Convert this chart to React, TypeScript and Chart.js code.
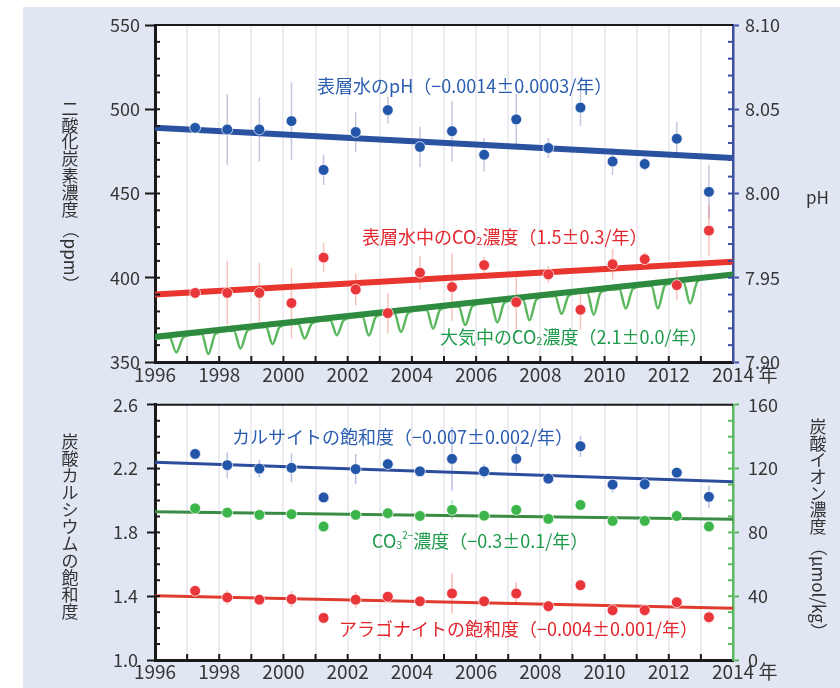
import React, { useEffect, useRef } from 'react';
import { Chart, registerables } from 'chart.js';
Chart.register(...registerables);

const FONT = '"Noto Sans CJK JP", "Noto Sans", sans-serif';
const TICK_COLOR = '#363636';
const AXIS_BLACK = '#1a1a1a';

// ---- sampling times (year) ----
const sampleYears = [1997.25, 1998.25, 1999.25, 2000.25, 2001.25, 2002.25, 2003.25, 2004.25, 2005.25, 2006.25, 2007.25, 2008.25, 2009.25, 2010.25, 2011.25, 2012.25, 2013.25];
const trendYears = [1996, 2014];

// ---- top panel: surface water pH (right axis) ----
const phValues = [8.039, 8.038, 8.038, 8.043, 8.014, 8.0365, 8.0495, 8.0276, 8.037, 8.023, 8.044, 8.027, 8.051, 8.019, 8.0175, 8.0325, 8.001];
const phErrors = [0.003, 0.021, 0.019, 0.023, 0.009, 0.012, 0.008, 0.012, 0.018, 0.010, 0.015, 0.006, 0.011, 0.008, 0.004, 0.010, 0.016];
const phTrend = [8.039, 8.021];

// ---- top panel: surface water pCO2 (ppm) ----
const pco2Values = [391, 391, 391, 385, 412, 393, 379, 403, 394.5, 407.5, 385.5, 402, 381, 408, 411, 395.6, 428];
const pco2Errors = [3, 19, 18, 21, 8.5, 9.5, 12, 10, 20, 5, 18, 5, 12, 9, 4, 9, 15];
const pco2Trend = [390, 409.5];

// ---- top panel: atmospheric CO2 (ppm) ----
const atmosYears = [
  1996.0, 1996.2, 1996.46, 1996.66, 1996.88,
  1997.2, 1997.46, 1997.66, 1997.88,
  1998.2, 1998.46, 1998.66, 1998.88,
  1999.2, 1999.46, 1999.66, 1999.88,
  2000.2, 2000.46, 2000.66, 2000.88,
  2001.2, 2001.46, 2001.66, 2001.88,
  2002.2, 2002.46, 2002.66, 2002.88,
  2003.2, 2003.46, 2003.66, 2003.88,
  2004.2, 2004.46, 2004.66, 2004.88,
  2005.2, 2005.46, 2005.66, 2005.88,
  2006.2, 2006.46, 2006.66, 2006.88,
  2007.2, 2007.46, 2007.66, 2007.88,
  2008.2, 2008.46, 2008.66, 2008.88,
  2009.2, 2009.46, 2009.66, 2009.88,
  2010.2, 2010.46, 2010.66, 2010.88,
  2011.2, 2011.46, 2011.66, 2011.88,
  2012.2, 2012.46, 2012.66, 2012.88,
  2013.0,
];
const atmosValues = [
  363.8, 364.2, 364.5, 355.7, 364.6,
  366.3, 366.6, 354.7, 366.7,
  368.3, 368.6, 358.0, 368.7,
  370.4, 370.7, 360.6, 370.8,
  372.4, 372.7, 363.9, 372.8,
  374.5, 374.8, 365.9, 374.9,
  376.5, 376.8, 365.7, 376.9,
  378.6, 378.9, 367.8, 379.0,
  380.6, 380.9, 369.8, 381.1,
  382.7, 383.0, 371.9, 383.1,
  384.8, 385.1, 373.4, 385.2,
  386.8, 387.1, 374.8, 387.2,
  388.9, 389.2, 378.5, 389.3,
  390.9, 391.2, 378.1, 391.3,
  393.0, 393.3, 381.7, 393.4,
  395.0, 395.3, 381.8, 395.4,
  397.1, 397.4, 384.7, 397.5,
  399.2,
];
const atmosTrend = [365, 402];

// ---- bottom panel: calcite saturation ----
const calciteValues = [2.292, 2.2215, 2.200, 2.205, 2.019, 2.197, 2.228, 2.183, 2.261, 2.183, 2.261, 2.137, 2.340, 2.100, 2.102, 2.175, 2.023];
const calciteErrors = [0.01, 0.08, 0.055, 0.09, 0.01, 0.095, 0.04, 0.03, 0.2, 0.045, 0.077, 0.02, 0.067, 0.05, 0.02, 0.02, 0.07];
const calciteTrend = [2.24, 2.117];

// ---- bottom panel: carbonate ion (µmol/kg, right axis) ----
const co3Values = [95.1, 92.4, 91.0, 91.4, 83.7, 91.0, 92.0, 90.3, 94.1, 90.5, 94.1, 88.5, 97.2, 87.2, 87.2, 90.3, 83.7];
const co3Errors = [2, 3, 2, 3, 1, 3, 2, 2, 6, 2, 3, 1, 2, 2, 1, 1, 2];
const co3Trend = [93, 88.3];

// ---- bottom panel: aragonite saturation ----
const aragValues = [1.434, 1.392, 1.378, 1.382, 1.264, 1.378, 1.397, 1.368, 1.417, 1.368, 1.417, 1.337, 1.469, 1.312, 1.312, 1.362, 1.268];
const aragErrors = [0.01, 0.045, 0.03, 0.05, 0.01, 0.05, 0.03, 0.02, 0.125, 0.03, 0.07, 0.02, 0.03, 0.02, 0.02, 0.02, 0.04];
const aragTrend = [1.403, 1.324];

// ---- colours ----
const BLUE = '#2356a8';
const RED = '#e8363a';
const GREEN_DARK = '#2e8a3f';
const GREEN_LIGHT = '#5cb85e';
const GREEN_DOT = '#3cb54a';
const BLUE_TEXT = '#2a5db0';
const RED_TEXT = '#e3262d';
const GREEN_TEXT = '#1d9a4a';

type Seg = { t: string; s?: number; dy?: number };
type Note = { x: number; y: number; color: string; segs: Seg[] };
type VTitle = { x: number; y: number; step: number; size: number; cjk: string; rot?: string; gap?: number };

const pts = (xs: number[], ys: number[]) => xs.map((x, i) => ({ x, y: ys[i] }));

function drawRich(ctx: CanvasRenderingContext2D, x: number, y: number, segs: Seg[], size: number, color: string) {
  ctx.save();
  ctx.fillStyle = color;
  ctx.textBaseline = 'middle';
  ctx.textAlign = 'left';
  let cx = x;
  for (const sg of segs) {
    const fs = size * (sg.s ?? 1);
    ctx.font = `${fs}px ${FONT}`;
    ctx.fillText(sg.t, cx, y + (sg.dy ?? 0) * size);
    cx += ctx.measureText(sg.t).width;
  }
  ctx.restore();
}

function drawVertical(ctx: CanvasRenderingContext2D, t: VTitle) {
  ctx.save();
  ctx.fillStyle = '#333';
  ctx.font = `${t.size}px ${FONT}`;
  ctx.textAlign = 'center';
  ctx.textBaseline = 'middle';
  let y = t.y + t.step / 2;
  for (const ch of Array.from(t.cjk)) {
    ctx.fillText(ch, t.x, y);
    y += t.step;
  }
  if (t.rot) {
    ctx.translate(t.x, y - t.step / 2 + (t.gap ?? 0));
    ctx.rotate(Math.PI / 2);
    ctx.textAlign = 'left';
    ctx.fillText(t.rot, 0, 0);
  }
  ctx.restore();
}

type DecorCfg = {
  pageTop: number;
  leftMinor: number;
  rightMinor: number;
  rightColor: string;
  notes: Note[];
  titles: VTitle[];
  hTitles: { x: number; y: number; text: string }[];
  xLabelPad: number;
};

function makeDecor(cfg: DecorCfg) {
  return {
    id: 'decor',
    beforeDraw(chart: any) {
      const { ctx, chartArea: a } = chart;
      ctx.save();
      ctx.fillStyle = '#ffffff';
      ctx.fillRect(a.left, a.top, a.right - a.left, a.bottom - a.top);
      ctx.restore();
    },
    beforeDatasetsDraw(chart: any) {
      const ctx = chart.ctx;
      chart.data.datasets.forEach((ds: any, i: number) => {
        if (!ds.errors) return;
        const meta = chart.getDatasetMeta(i);
        const ys = chart.scales[ds.yAxisID];
        ctx.save();
        ctx.strokeStyle = ds.errorColor;
        ctx.lineWidth = 1.5;
        meta.data.forEach((el: any, j: number) => {
          const v = ds.data[j].y;
          const e = ds.errors[j];
          ctx.beginPath();
          ctx.moveTo(el.x, ys.getPixelForValue(v + e));
          ctx.lineTo(el.x, ys.getPixelForValue(v - e));
          ctx.stroke();
        });
        ctx.restore();
      });
    },
    afterDraw(chart: any) {
      const { ctx, chartArea: a } = chart;
      const xs = chart.scales.x;
      const yl = chart.scales.y;
      const yr = chart.scales.y2;
      ctx.save();
      // top border
      ctx.strokeStyle = AXIS_BLACK;
      ctx.lineWidth = 2;
      ctx.beginPath();
      ctx.moveTo(a.left, a.top);
      ctx.lineTo(a.right, a.top);
      ctx.stroke();
      // inward ticks on x axis (every year)
      ctx.lineWidth = 2;
      const nx = Math.round(xs.max - xs.min);
      for (let k = 1; k < nx; k++) {
        const p = xs.getPixelForValue(xs.min + k);
        ctx.beginPath();
        ctx.moveTo(p, a.bottom);
        ctx.lineTo(p, a.bottom - 6);
        ctx.stroke();
      }
      // inward minor ticks on left axis
      const nl = Math.round((yl.max - yl.min) / cfg.leftMinor);
      for (let k = 1; k < nl; k++) {
        const p = yl.getPixelForValue(yl.min + k * cfg.leftMinor);
        ctx.beginPath();
        ctx.moveTo(a.left, p);
        ctx.lineTo(a.left + 5, p);
        ctx.stroke();
      }
      // inward minor ticks on right axis
      ctx.strokeStyle = cfg.rightColor;
      const nr = Math.round((yr.max - yr.min) / cfg.rightMinor);
      for (let k = 1; k < nr; k++) {
        const p = yr.getPixelForValue(yr.min + k * cfg.rightMinor);
        ctx.beginPath();
        ctx.moveTo(a.right, p);
        ctx.lineTo(a.right - 5, p);
        ctx.stroke();
      }
      ctx.restore();
      // "年" suffix after the last year label
      ctx.save();
      ctx.fillStyle = TICK_COLOR;
      ctx.font = `19px ${FONT}`;
      ctx.textAlign = 'center';
      ctx.textBaseline = 'middle';
      ctx.fillText('年', xs.getPixelForValue(xs.max) + 35, xs.top + cfg.xLabelPad + (19 * 1.2) / 2);
      ctx.restore();
      // annotations
      for (const n of cfg.notes) drawRich(ctx, n.x, n.y - cfg.pageTop, n.segs, 18, n.color);
      // axis titles
      for (const t of cfg.titles) drawVertical(ctx, { ...t, y: t.y - cfg.pageTop });
      ctx.save();
      ctx.fillStyle = '#333';
      ctx.font = `17px ${FONT}`;
      ctx.textAlign = 'left';
      ctx.textBaseline = 'middle';
      for (const h of cfg.hTitles) ctx.fillText(h.text, h.x, h.y - cfg.pageTop);
      ctx.restore();
    },
  };
}

const xTickCallback = (v: any) => {
  const n = Math.round(Number(v));
  return n % 2 === 0 ? String(n) : '';
};

function baseX(height: number, pad: number) {
  return {
    type: 'linear',
    position: 'bottom',
    min: 1996,
    max: 2014,
    afterFit: (s: any) => { s.height = height; },
    ticks: { stepSize: 1, autoSkip: false, maxRotation: 0, padding: pad, color: TICK_COLOR, font: { family: FONT, size: 19 }, callback: xTickCallback },
    grid: { color: '#ececf0', lineWidth: 2, drawTicks: false },
    border: { display: true, color: AXIS_BLACK, width: 3 },
  };
}

function topConfig(): any {
  const decor = makeDecor({
    pageTop: 0,
    leftMinor: 10,
    rightMinor: 0.01,
    rightColor: '#3d4f9e',
    xLabelPad: 1,
    notes: [
      { x: 317, y: 86, color: BLUE_TEXT, segs: [{ t: '表層水のpH（−0.0014±0.0003/年）' }] },
      { x: 362, y: 237, color: RED_TEXT, segs: [{ t: '表層水中のCO' }, { t: '2', s: 0.62, dy: 0.2 }, { t: '濃度（1.5±0.3/年）' }] },
      { x: 440, y: 337, color: GREEN_TEXT, segs: [{ t: '大気中のCO' }, { t: '2', s: 0.62, dy: 0.2 }, { t: '濃度（2.1±0.0/年）' }] },
    ],
    titles: [{ x: 70, y: 100, step: 16.8, size: 17, cjk: '二酸化炭素濃度', rot: '（ppm）', gap: 4 }],
    hTitles: [{ x: 806, y: 198, text: 'pH' }],
  });
  return {
    type: 'line',
    data: {
      datasets: [
        { data: pts(sampleYears, phValues), yAxisID: 'y2', showLine: false, pointRadius: 5.4, pointBackgroundColor: BLUE, pointBorderColor: 'rgba(255,255,255,0.7)', pointBorderWidth: 1, borderColor: BLUE, order: 0, errors: phErrors, errorColor: 'rgba(150,140,190,0.5)' },
        { data: pts(sampleYears, pco2Values), yAxisID: 'y', showLine: false, pointRadius: 5.4, pointBackgroundColor: RED, pointBorderColor: 'rgba(255,255,255,0.7)', pointBorderWidth: 1, borderColor: RED, order: 0, errors: pco2Errors, errorColor: 'rgba(235,120,100,0.45)' },
        { data: pts(trendYears, phTrend), yAxisID: 'y2', borderColor: '#2a52a0', borderWidth: 6, pointRadius: 0, order: 1 },
        { data: pts(trendYears, pco2Trend), yAxisID: 'y', borderColor: '#e8352e', borderWidth: 6, pointRadius: 0, order: 1 },
        { data: pts(trendYears, atmosTrend), yAxisID: 'y', borderColor: GREEN_DARK, borderWidth: 6, pointRadius: 0, order: 2 },
        { data: pts(atmosYears, atmosValues), yAxisID: 'y', borderColor: GREEN_LIGHT, borderWidth: 2.5, pointRadius: 0, cubicInterpolationMode: 'monotone', order: 3 },
      ],
    },
    options: {
      responsive: false,
      animation: false,
      devicePixelRatio: 1,
      events: [],
      layout: { padding: { top: 25, left: 0, right: 0, bottom: 0 } },
      plugins: { legend: { display: false }, tooltip: { enabled: false }, title: { display: false } },
      scales: {
        x: baseX(33, 1),
        y: {
          type: 'linear', position: 'left', min: 350, max: 550,
          afterFit: (s: any) => { s.width = 155; },
          ticks: { stepSize: 50, padding: 5, color: TICK_COLOR, font: { family: FONT, size: 18 } },
          grid: { drawOnChartArea: false, drawTicks: true, tickLength: 10, tickColor: AXIS_BLACK, tickWidth: 2 },
          border: { color: AXIS_BLACK, width: 3 },
        },
        y2: {
          type: 'linear', position: 'right', min: 7.9, max: 8.1,
          afterFit: (s: any) => { s.width = 107; },
          ticks: { stepSize: 0.05, padding: 6, color: TICK_COLOR, font: { family: FONT, size: 18 }, callback: (v: any) => Number(v).toFixed(2) },
          grid: { drawOnChartArea: false, drawTicks: true, tickLength: 6, tickColor: '#3d4f9e', tickWidth: 2 },
          border: { color: '#3d4f9e', width: 2.5 },
        },
      },
    },
    plugins: [decor],
  };
}

function bottomConfig(): any {
  const decor = makeDecor({
    pageTop: 385,
    leftMinor: 0.1,
    rightMinor: 10,
    rightColor: '#5cb85e',
    xLabelPad: 0,
    notes: [
      { x: 232, y: 437, color: BLUE_TEXT, segs: [{ t: 'カルサイトの飽和度（−0.007±0.002/年）' }] },
      { x: 372, y: 541, color: GREEN_TEXT, segs: [{ t: 'CO' }, { t: '3', s: 0.6, dy: 0.22 }, { t: '2−', s: 0.55, dy: -0.3 }, { t: '濃度（−0.3±0.1/年）' }] },
      { x: 339, y: 629, color: RED_TEXT, segs: [{ t: 'アラゴナイトの飽和度（−0.004±0.001/年）' }] },
    ],
    titles: [
      { x: 70, y: 433, step: 17, size: 17, cjk: '炭酸カルシウムの飽和度' },
      { x: 818, y: 418, step: 16.7, size: 17, cjk: '炭酸イオン濃度', rot: '（μmol/kg）', gap: 4 },
    ],
    hTitles: [],
  });
  return {
    type: 'line',
    data: {
      datasets: [
        { data: pts(sampleYears, calciteValues), yAxisID: 'y', showLine: false, pointRadius: 5.4, pointBackgroundColor: BLUE, pointBorderColor: 'rgba(255,255,255,0.7)', pointBorderWidth: 1, borderColor: BLUE, order: 0, errors: calciteErrors, errorColor: 'rgba(120,130,200,0.5)' },
        { data: pts(sampleYears, co3Values), yAxisID: 'y2', showLine: false, pointRadius: 5.4, pointBackgroundColor: GREEN_DOT, pointBorderColor: 'rgba(255,255,255,0.7)', pointBorderWidth: 1, borderColor: GREEN_DOT, order: 0, errors: co3Errors, errorColor: 'rgba(100,190,110,0.5)' },
        { data: pts(sampleYears, aragValues), yAxisID: 'y', showLine: false, pointRadius: 5.4, pointBackgroundColor: RED, pointBorderColor: 'rgba(255,255,255,0.7)', pointBorderWidth: 1, borderColor: RED, order: 0, errors: aragErrors, errorColor: 'rgba(235,100,90,0.45)' },
        { data: pts(trendYears, calciteTrend), yAxisID: 'y', borderColor: '#2c4c9c', borderWidth: 3, pointRadius: 0, order: 1 },
        { data: pts(trendYears, co3Trend), yAxisID: 'y2', borderColor: '#3a8c45', borderWidth: 3, pointRadius: 0, order: 1 },
        { data: pts(trendYears, aragTrend), yAxisID: 'y', borderColor: '#df3b2f', borderWidth: 3, pointRadius: 0, order: 1 },
      ],
    },
    options: {
      responsive: false,
      animation: false,
      devicePixelRatio: 1,
      events: [],
      layout: { padding: { top: 17, left: 0, right: 0, bottom: 0 } },
      plugins: { legend: { display: false }, tooltip: { enabled: false }, title: { display: false } },
      scales: {
        x: baseX(28, 0),
        y: {
          type: 'linear', position: 'left', min: 1.0, max: 2.6,
          afterFit: (s: any) => { s.width = 155; },
          ticks: { stepSize: 0.4, padding: 9, color: TICK_COLOR, font: { family: FONT, size: 18 }, callback: (v: any) => Number(v).toFixed(1) },
          grid: { drawOnChartArea: false, drawTicks: true, tickLength: 8, tickColor: AXIS_BLACK, tickWidth: 2 },
          border: { color: AXIS_BLACK, width: 3 },
        },
        y2: {
          type: 'linear', position: 'right', min: 0, max: 160,
          afterFit: (s: any) => { s.width = 107; },
          ticks: { stepSize: 40, padding: 9, color: TICK_COLOR, font: { family: FONT, size: 18 } },
          grid: { drawOnChartArea: false, drawTicks: true, tickLength: 6, tickColor: '#5cb85e', tickWidth: 2 },
          border: { color: '#5cb85e', width: 2.5 },
        },
      },
    },
    plugins: [decor],
  };
}

export default function App() {
  const topRef = useRef<HTMLCanvasElement>(null);
  const botRef = useRef<HTMLCanvasElement>(null);
  useEffect(() => {
    const c1 = new Chart(topRef.current as HTMLCanvasElement, topConfig());
    const c2 = new Chart(botRef.current as HTMLCanvasElement, bottomConfig());
    return () => {
      c1.destroy();
      c2.destroy();
    };
  }, []);
  return (
    <div style={{ position: 'fixed', left: 0, top: 0, width: 840, height: 688, background: '#ffffff', overflow: 'hidden' }}>
      <div style={{ position: 'absolute', left: 23, top: 7, right: 0, bottom: 0, background: '#e0e7f2' }} />
      <canvas ref={topRef} width={840} height={395} style={{ position: 'absolute', left: 0, top: 0, width: 840, height: 395 }} />
      <canvas ref={botRef} width={840} height={303} style={{ position: 'absolute', left: 0, top: 385, width: 840, height: 303 }} />
    </div>
  );
}
